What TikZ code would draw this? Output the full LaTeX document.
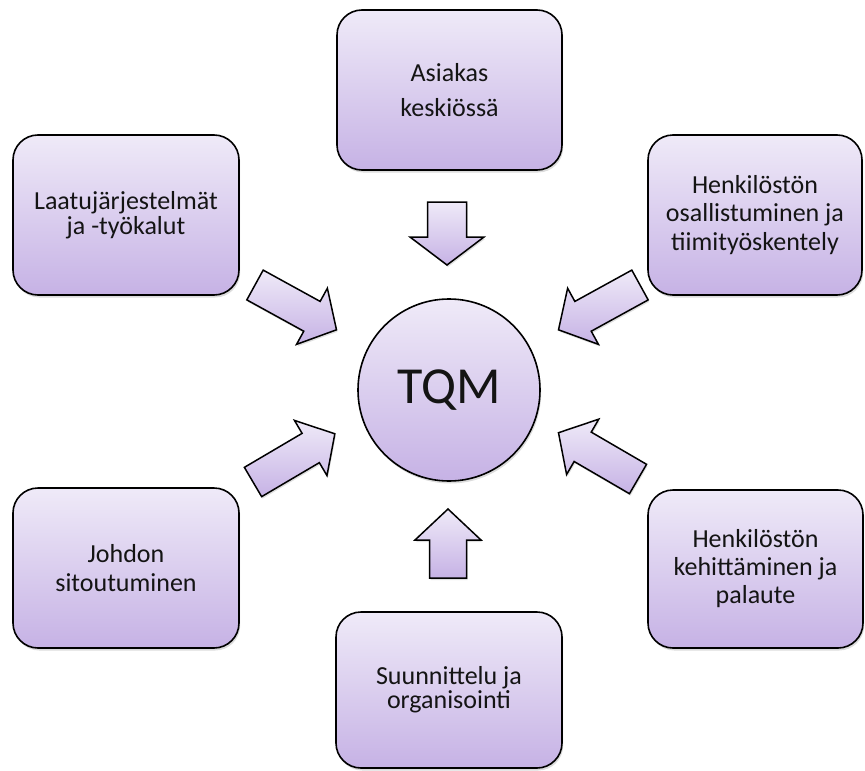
\documentclass[tikz,border=0pt]{standalone}
\usepackage{fontspec}
\setmainfont{Carlito}
\usetikzlibrary{shadows}
\definecolor{lilaTop}{RGB}{239,234,248}
\definecolor{lilaBot}{RGB}{198,178,229}
\definecolor{txt}{RGB}{20,20,20}
\tikzset{
  box/.style={draw=black, line width=1.6pt, rounded corners=25pt,
    top color=lilaTop, bottom color=lilaBot, align=center, text=txt,
    inner sep=2pt,
    drop shadow={shadow xshift=1.2pt, shadow yshift=-2.5pt, opacity=0.28}},
  arrowfill/.style={draw=black, line width=1.5pt, line join=miter,
    top color=lilaTop, bottom color=lilaBot,
    drop shadow={shadow xshift=1pt, shadow yshift=-2pt, opacity=0.25}},
  hub/.style={circle, draw=black, line width=1.6pt, top color=lilaTop,
    bottom color=lilaBot, text=txt, inner sep=0pt, minimum size=182pt,
    font=\fontsize{52}{52}\selectfont,
    drop shadow={shadow xshift=1.2pt, shadow yshift=-2.5pt, opacity=0.28}}
}
% #1,#2 tail centre; #3 angle; #4 length; #5 shaft half; #6 head half; #7 head length
\newcommand{\blockarrow}[7]{%
  \begin{scope}[shift={(#1,#2)}, rotate=#3]
    \path[arrowfill] (0,-#5) -- ({#4-#7},-#5) -- ({#4-#7},-#6) -- (#4,0)
      -- ({#4-#7},#6) -- ({#4-#7},#5) -- (0,#5) -- cycle;
  \end{scope}}
\begin{document}
\begin{tikzpicture}[x=1pt, y=-1pt]
\useasboundingbox (0,0) rectangle (865,771);

% central circle
\node[hub] (tqm) at (449,390) {TQM};

% boxes
\node[box, minimum width=225pt, minimum height=160pt,
  font=\fontsize{26}{35}\selectfont] (asiakas) at (449.5,90)
  {Asiakas\\keskiössä};
\node[box, minimum width=226pt, minimum height=160pt,
  font=\fontsize{26}{25}\selectfont] (laatu) at (126,215)
  {Laatujärjestelmät\\ja -työkalut};
\node[box, minimum width=214pt, minimum height=160pt,
  font=\fontsize{26}{28.5}\selectfont] (osall) at (755,215)
  {Henkilöstön\\osallistuminen ja\\tiimityöskentely};
\node[box, minimum width=226pt, minimum height=160pt,
  font=\fontsize{26}{29}\selectfont] (johdon) at (126,568)
  {Johdon\\sitoutuminen};
\node[box, minimum width=215pt, minimum height=158pt,
  font=\fontsize{26}{28}\selectfont] (kehit) at (755.5,569)
  {Henkilöstön\\kehittäminen ja\\palaute};
\node[box, minimum width=226pt, minimum height=156pt,
  font=\fontsize{26}{24}\selectfont] (suunn) at (449,690)
  {Suunnittelu ja\\organisointi};

% block arrows towards the centre
\blockarrow{447}{202}{-90}{63}{19.5}{37}{28}
\blockarrow{448}{578}{90}{69}{18.5}{33}{31}
\blockarrow{255}{285}{-28.8}{93}{17}{32}{28}
\blockarrow{640}{285}{208.8}{93}{17}{32}{28}
\blockarrow{253}{482}{30.5}{95}{17}{32}{28}
\blockarrow{638}{479}{149.8}{92}{17}{32}{28}
\end{tikzpicture}
\end{document}
